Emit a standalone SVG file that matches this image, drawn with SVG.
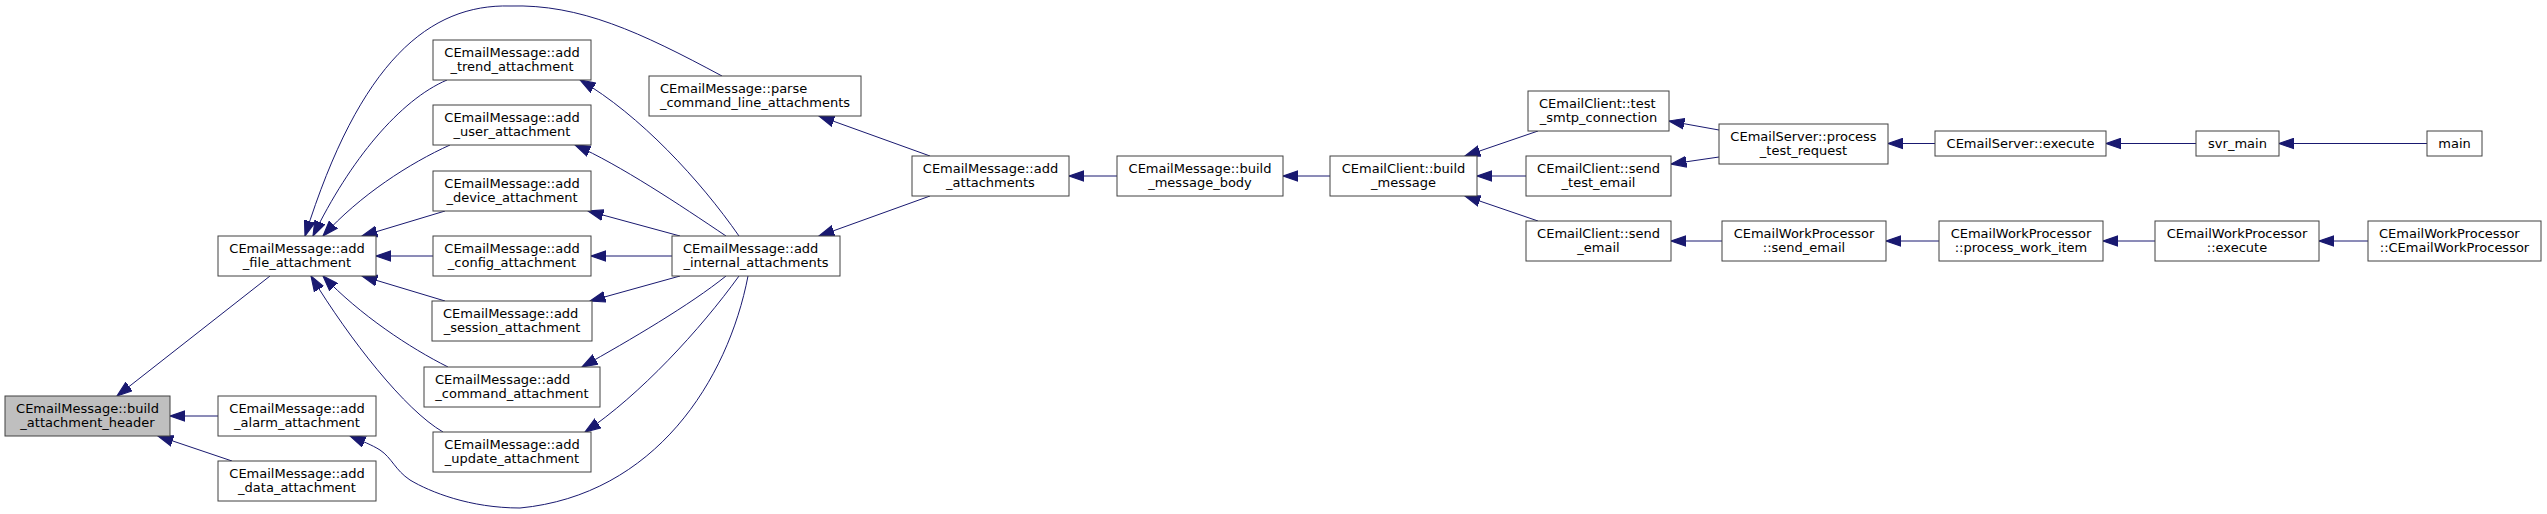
<svg xmlns="http://www.w3.org/2000/svg" width="2547" height="514" viewBox="0 0 2547 514">
<style>
.n rect{fill:#ffffff;stroke:#404040;stroke-width:1}
.n.cur rect{fill:#bfbfbf}
.n text{font-family:"DejaVu Sans","Liberation Sans",sans-serif;font-size:13px;fill:#000000}
.c{text-anchor:middle}
.l{text-anchor:start}
#edges path{fill:none;stroke:#191970;stroke-width:1;marker-end:url(#ah)}
</style>
<defs>
<marker id="ah" markerUnits="userSpaceOnUse" markerWidth="16" markerHeight="12" viewBox="0 0 14 10" refX="13.5" refY="5" orient="auto">
<path d="M0,0.3 L13.5,5 L0,9.7 z" fill="#191970" stroke="#191970" stroke-width="1"/>
</marker>
</defs>
<rect width="2547" height="514" fill="#ffffff"/>
<g id="edges">
<path d="M270,276 L117,396"/>
<path d="M218,416 L170,416"/>
<path d="M232,461 L158,436"/>
<path d="M722,76 C640,32 580,4 510,6 C430,4 360,60 305,236"/>
<path d="M447,80 C400,100 350,160 313,236"/>
<path d="M450,145 C410,163 360,195 323,236"/>
<path d="M445,211 L362,236"/>
<path d="M433,256 L376,256"/>
<path d="M445,301 L362,276"/>
<path d="M448,367 C410,348 360,315 323,276"/>
<path d="M443,432 C405,410 350,340 311,276"/>
<path d="M739,236 C700,180 640,115 580,80"/>
<path d="M726,236 C680,205 620,165 575,145"/>
<path d="M680,236 L588,211"/>
<path d="M672,256 L591,256"/>
<path d="M680,276 L590,301"/>
<path d="M726,276 C690,305 630,340 582,367"/>
<path d="M739,276 C700,330 640,395 585,432"/>
<path d="M748,276 C728,380 655,495 520,508 C470,508 430,492 410,480 C395,470 392,458 380,450 C372,445 362,441 350,436"/>
<path d="M930,156 L819,116"/>
<path d="M930,196 L819,236"/>
<path d="M1117,176 L1069,176"/>
<path d="M1330,176 L1283,176"/>
<path d="M1538,131 L1465,156"/>
<path d="M1526,176 L1477,176"/>
<path d="M1538,221 L1465,196"/>
<path d="M1719,130 L1669,121"/>
<path d="M1719,157 L1671,164"/>
<path d="M1935,143.5 L1888,143.5"/>
<path d="M2196,143.5 L2106,143.5"/>
<path d="M2427,143.5 L2279,143.5"/>
<path d="M1722,241 L1671,241"/>
<path d="M1939,241 L1886,241"/>
<path d="M2155,241 L2103,241"/>
<path d="M2368,241 L2319,241"/>
</g>
<g id="n0" class="n cur"><rect x="5" y="396" width="165" height="40"/><text class="c" x="87.5" y="412.5">CEmailMessage::build</text><text class="c" x="87.5" y="427">_attachment_header</text></g>
<g id="n1" class="n"><rect x="218" y="236" width="158" height="40"/><text class="c" x="297" y="252.5">CEmailMessage::add</text><text class="c" x="297" y="267">_file_attachment</text></g>
<g id="n2" class="n"><rect x="218" y="396" width="158" height="40"/><text class="c" x="297" y="412.5">CEmailMessage::add</text><text class="c" x="297" y="427">_alarm_attachment</text></g>
<g id="n3" class="n"><rect x="218" y="461" width="158" height="40"/><text class="c" x="297" y="477.5">CEmailMessage::add</text><text class="c" x="297" y="492">_data_attachment</text></g>
<g id="n4" class="n"><rect x="433" y="40" width="158" height="40"/><text class="c" x="512" y="56.5">CEmailMessage::add</text><text class="c" x="512" y="71">_trend_attachment</text></g>
<g id="n5" class="n"><rect x="433" y="105" width="158" height="40"/><text class="c" x="512" y="121.5">CEmailMessage::add</text><text class="c" x="512" y="136">_user_attachment</text></g>
<g id="n6" class="n"><rect x="433" y="171" width="158" height="40"/><text class="c" x="512" y="187.5">CEmailMessage::add</text><text class="c" x="512" y="202">_device_attachment</text></g>
<g id="n7" class="n"><rect x="433" y="236" width="158" height="40"/><text class="c" x="512" y="252.5">CEmailMessage::add</text><text class="c" x="512" y="267">_config_attachment</text></g>
<g id="n8" class="n"><rect x="432" y="301" width="160" height="40"/><text class="l" x="443" y="317.5">CEmailMessage::add</text><text class="c" x="512" y="332">_session_attachment</text></g>
<g id="n9" class="n"><rect x="424" y="367" width="176" height="40"/><text class="l" x="435" y="383.5">CEmailMessage::add</text><text class="c" x="512" y="398">_command_attachment</text></g>
<g id="n10" class="n"><rect x="433" y="432" width="158" height="40"/><text class="c" x="512" y="448.5">CEmailMessage::add</text><text class="c" x="512" y="463">_update_attachment</text></g>
<g id="n11" class="n"><rect x="649" y="76" width="212" height="40"/><text class="l" x="660" y="92.5">CEmailMessage::parse</text><text class="c" x="755" y="107">_command_line_attachments</text></g>
<g id="n12" class="n"><rect x="672" y="236" width="168" height="40"/><text class="l" x="683" y="252.5">CEmailMessage::add</text><text class="c" x="756" y="267">_internal_attachments</text></g>
<g id="n13" class="n"><rect x="912" y="156" width="157" height="40"/><text class="c" x="990.5" y="172.5">CEmailMessage::add</text><text class="c" x="990.5" y="187">_attachments</text></g>
<g id="n14" class="n"><rect x="1117" y="156" width="166" height="40"/><text class="c" x="1200" y="172.5">CEmailMessage::build</text><text class="c" x="1200" y="187">_message_body</text></g>
<g id="n15" class="n"><rect x="1330" y="156" width="147" height="40"/><text class="c" x="1403.5" y="172.5">CEmailClient::build</text><text class="c" x="1403.5" y="187">_message</text></g>
<g id="n16" class="n"><rect x="1528" y="91" width="141" height="40"/><text class="l" x="1539" y="107.5">CEmailClient::test</text><text class="c" x="1598.5" y="122">_smtp_connection</text></g>
<g id="n17" class="n"><rect x="1526" y="156" width="145" height="40"/><text class="c" x="1598.5" y="172.5">CEmailClient::send</text><text class="c" x="1598.5" y="187">_test_email</text></g>
<g id="n18" class="n"><rect x="1526" y="221" width="145" height="40"/><text class="c" x="1598.5" y="237.5">CEmailClient::send</text><text class="c" x="1598.5" y="252">_email</text></g>
<g id="n19" class="n"><rect x="1719" y="124" width="169" height="40"/><text class="c" x="1803.5" y="140.5">CEmailServer::process</text><text class="c" x="1803.5" y="155">_test_request</text></g>
<g id="n20" class="n"><rect x="1935" y="131" width="171" height="25"/><text class="c" x="2020.5" y="147.5">CEmailServer::execute</text></g>
<g id="n21" class="n"><rect x="2196" y="131" width="83" height="25"/><text class="c" x="2237.5" y="147.5">svr_main</text></g>
<g id="n22" class="n"><rect x="2427" y="131" width="55" height="25"/><text class="c" x="2454.5" y="147.5">main</text></g>
<g id="n23" class="n"><rect x="1722" y="221" width="164" height="40"/><text class="c" x="1804" y="237.5">CEmailWorkProcessor</text><text class="c" x="1804" y="252">::send_email</text></g>
<g id="n24" class="n"><rect x="1939" y="221" width="164" height="40"/><text class="c" x="2021" y="237.5">CEmailWorkProcessor</text><text class="c" x="2021" y="252">::process_work_item</text></g>
<g id="n25" class="n"><rect x="2155" y="221" width="164" height="40"/><text class="c" x="2237" y="237.5">CEmailWorkProcessor</text><text class="c" x="2237" y="252">::execute</text></g>
<g id="n26" class="n"><rect x="2368" y="221" width="173" height="40"/><text class="l" x="2379" y="237.5">CEmailWorkProcessor</text><text class="c" x="2454.5" y="252">::CEmailWorkProcessor</text></g>
</svg>
